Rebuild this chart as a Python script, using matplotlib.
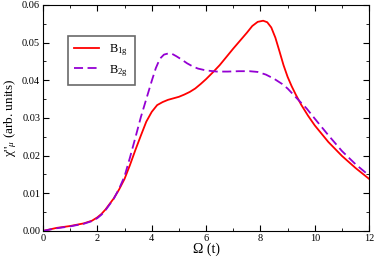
import matplotlib
matplotlib.use('Agg')
import matplotlib.pyplot as plt
from matplotlib.ticker import MultipleLocator

# Data
omega_b1g = [0.0, 0.5, 1.0, 1.5, 1.8, 2.0, 2.15, 2.3, 2.6, 2.8, 3.0, 3.2, 3.4,
             3.6, 3.8, 4.0, 4.2, 4.4, 4.6, 4.8, 5.0, 5.2, 5.4, 5.6, 5.8, 6.0,
             6.25, 6.5, 6.75, 7.0, 7.25, 7.5, 7.7, 7.9, 8.1, 8.25, 8.4, 8.55,
             8.7, 8.85, 9.0, 9.15, 9.3, 9.5, 9.75, 10.0, 10.5, 11.0, 11.5, 12.0]
chi_b1g = [0.0, 0.0008, 0.0013, 0.0020, 0.0027, 0.0036, 0.0045, 0.0057, 0.0086,
           0.0110, 0.0138, 0.0175, 0.0215, 0.0253, 0.0290, 0.0316, 0.0334, 0.0342,
           0.0348, 0.0352, 0.0356, 0.0362, 0.0369, 0.0378, 0.0390, 0.0403, 0.0421,
           0.0440, 0.0462, 0.0484, 0.0505, 0.0526, 0.0544, 0.0555, 0.0558, 0.0554,
           0.0540, 0.0513, 0.0477, 0.0440, 0.0409, 0.0384, 0.0362, 0.0335, 0.0306,
           0.0280, 0.0236, 0.0199, 0.0167, 0.0138]

omega_b2g = [0.0, 0.5, 1.0, 1.5, 1.8, 2.0, 2.15, 2.3, 2.6, 2.8, 3.0, 3.2, 3.4,
             3.6, 3.8, 4.0, 4.15, 4.3, 4.45, 4.6, 4.75, 4.9, 5.1, 5.3, 5.5, 5.7,
             6.0, 6.4, 6.8, 7.2, 7.6, 7.9, 8.2, 8.5, 8.8, 9.0, 9.3, 9.7, 10.0,
             10.5, 11.0, 11.5, 12.0]
chi_b2g = [0.0, 0.0007, 0.0012, 0.0019, 0.0026, 0.0034, 0.0043, 0.0055, 0.0085,
           0.0112, 0.0145, 0.0195, 0.0248, 0.0302, 0.0350, 0.0398, 0.0432, 0.0457,
           0.0468, 0.0471, 0.0470, 0.0464, 0.0455, 0.0445, 0.0437, 0.0431, 0.0426,
           0.0423, 0.0423, 0.0424, 0.0424, 0.0422, 0.0415, 0.0404, 0.0390, 0.0378,
           0.0355, 0.0325, 0.0298, 0.0254, 0.0212, 0.0177, 0.0147]

plt.rcParams['font.family'] = ['Liberation Serif', 'DejaVu Serif']
plt.rcParams['mathtext.fontset'] = 'custom'
plt.rcParams['mathtext.rm'] = 'Liberation Serif'
plt.rcParams['mathtext.it'] = 'Liberation Serif:italic'

fig = plt.figure(figsize=(3.74, 2.58), dpi=100)
ax = fig.add_axes([0.115, 0.105, 0.872, 0.876])

ax.plot(omega_b1g, chi_b1g, color='red', lw=1.3, label=r'B$_{\rm 1g}$')
ax.plot(omega_b2g, chi_b2g, color='#9400d3', lw=1.3, dashes=(5, 2.5),
        label=r'B$_{\rm 2g}$')

ax.set_xlim(0, 12)
ax.set_ylim(0, 0.06)
ax.xaxis.set_major_locator(MultipleLocator(2))
ax.xaxis.set_minor_locator(MultipleLocator(1))
ax.yaxis.set_major_locator(MultipleLocator(0.01))
ax.yaxis.set_minor_locator(MultipleLocator(0.005))
ax.yaxis.set_major_formatter(plt.FormatStrFormatter('%.2f'))
ax.tick_params(which='both', direction='in', top=True, right=True, labelsize=7.5,
               pad=2)
ax.tick_params(which='major', length=4)
ax.tick_params(which='minor', length=2)
for s in ax.spines.values():
    s.set_linewidth(0.8)

ax.set_xlabel('Ω (t)', fontsize=10, labelpad=0)
ax.set_ylabel("χ''$_{\\mu}$ (arb. units)", fontsize=9.5, labelpad=2)

leg = ax.legend(loc='upper left', bbox_to_anchor=(0.077, 0.863), fontsize=9,
                frameon=True, fancybox=False, handlelength=2.0, borderpad=0.5,
                labelspacing=0.4, borderaxespad=0)
leg.get_frame().set_edgecolor('#444444')
leg.get_frame().set_linewidth(1.2)

fig.savefig('out.png', dpi=100)
